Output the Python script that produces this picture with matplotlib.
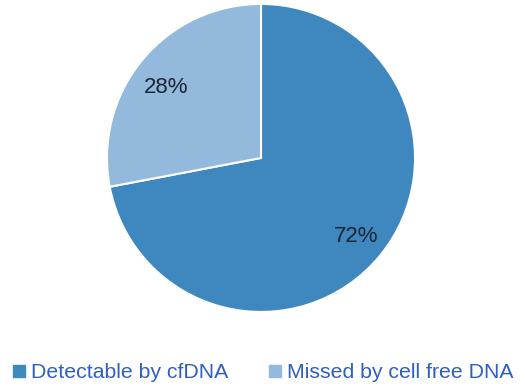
import matplotlib.pyplot as plt
from matplotlib.lines import Line2D

# Data
labels = ['Detectable by cfDNA', 'Missed by cell free DNA']
values = [72, 28]
colors = ['#3f87bf', '#93b9dd']

plt.rcParams['font.family'] = ['Liberation Sans', 'DejaVu Sans']

fig = plt.figure(figsize=(5.25, 3.9), dpi=100)
ax = fig.add_axes([0.2038, 0.2, 0.5867, 0.79])

wedges, texts, autotexts = ax.pie(
    values, colors=colors, startangle=90, counterclock=False,
    autopct='%d%%', pctdistance=0.8, radius=1.0,
    wedgeprops=dict(edgecolor='white', linewidth=1.5),
    textprops=dict(fontsize=16, color='#1b2535'))
ax.set_aspect('equal')
ax.set_xlim(-1.0, 1.0)
ax.set_ylim(-1.0, 1.0)

# nudge the small-slice label a bit lower, as in the original
x, y = autotexts[1].get_position()
autotexts[1].set_position((x, y - 0.05))

# Legend with square markers
handles = [Line2D([], [], marker='s', linestyle='', markersize=8,
                  markerfacecolor=c, markeredgecolor=c) for c in colors]
leg = fig.legend(handles, labels, loc='center', ncol=2,
                 bbox_to_anchor=(0.499, 0.044), frameon=False,
                 fontsize=15.3, handletextpad=0.2, columnspacing=1.77,
                 handlelength=0.8, borderpad=0, borderaxespad=0)
for t in leg.get_texts():
    t.set_color('#2f5fbf')

fig.savefig('out.png', dpi=100)
